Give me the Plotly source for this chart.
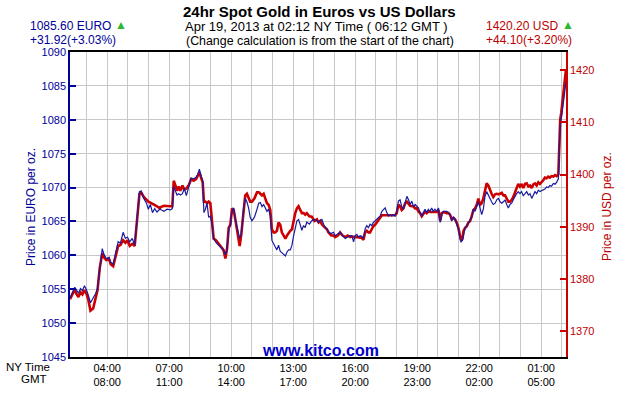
import plotly.graph_objects as go

# time in hours after midnight (NY time) Apr 18, 2013
hours = [2.20, 2.32, 2.43, 2.51, 2.61, 2.71, 2.80, 2.90, 3.00, 3.09, 3.19, 3.32, 3.45, 3.53, 3.64, 3.76, 3.85, 3.96,
         4.08, 4.17, 4.29, 4.42, 4.53, 4.64, 4.77, 4.88, 4.98, 5.09, 5.21, 5.33, 5.45, 5.56, 5.64, 5.77, 5.90, 5.99,
         6.09, 6.19, 6.30, 6.41, 6.54,
         6.57, 6.74, 6.90, 7.06, 7.15, 7.22, 7.30, 7.38, 7.46, 7.54, 7.64, 7.73, 7.83, 7.94, 8.06, 8.18, 8.30, 8.39,
         8.46, 8.54, 8.62, 8.68, 8.75, 8.83, 8.91, 8.99, 9.07, 9.15, 9.26, 9.36, 9.47, 9.55, 9.63, 9.72, 9.80, 9.88,
         9.96, 10.04, 10.12, 10.20, 10.31, 10.41, 10.49, 10.60, 10.68, 10.76, 10.84, 10.92, 11.00, 11.12,
         11.25, 11.33, 11.41, 11.49, 11.57, 11.65, 11.73, 11.81, 11.89, 11.97, 12.05, 12.13, 12.21, 12.29, 12.37,
         12.45, 12.54, 12.62, 12.70, 12.78, 12.86, 12.94, 13.02, 13.10, 13.18, 13.26, 13.34, 13.42, 13.50, 13.58,
         13.66, 13.78, 13.90, 14.03, 14.15, 14.23, 14.31, 14.39, 14.47, 14.55, 14.63, 14.71, 14.84, 14.95, 15.03,
         15.16, 15.27, 15.39, 15.52, 15.64, 15.76,
         15.84, 15.92, 16.00, 16.08, 16.16, 16.24, 16.32, 16.40, 16.48, 16.56, 16.64, 16.72, 16.80, 16.88, 16.97,
         17.05, 17.13, 17.21, 17.29, 17.37, 17.45, 17.53, 17.61, 17.69, 17.77, 17.85, 17.93, 18.01, 18.09, 18.17,
         18.25, 18.33, 18.42, 18.50, 18.58, 18.66, 18.74, 18.82, 18.90, 18.98, 19.06, 19.14, 19.22, 19.30, 19.38,
         19.46, 19.54, 19.62, 19.70, 19.78, 19.86, 19.95, 20.03, 20.11, 20.19, 20.27,
         20.43, 20.51, 20.59, 20.67, 20.75, 20.83, 20.91, 20.99, 21.07, 21.12, 21.19, 21.24, 21.32, 21.40, 21.48,
         21.56, 21.64, 21.72, 21.80, 21.88, 21.96, 22.04, 22.12, 22.20, 22.28, 22.36, 22.44, 22.52, 22.60, 22.68,
         22.77, 22.85, 22.93, 23.01, 23.09, 23.17, 23.25, 23.33, 23.41, 23.49, 23.57, 23.65, 23.73, 23.81, 23.89,
         23.97, 24.05, 24.13, 24.22, 24.30, 24.38, 24.46, 24.54, 24.62, 24.70, 24.78, 24.86, 24.94, 25.02, 25.10,
         25.18, 25.26, 25.34, 25.42, 25.50, 25.59, 25.67, 25.75, 25.83, 25.88, 25.92, 25.97, 26.02, 26.07, 26.12,
         26.17, 26.20]

eur = [1053.7, 1054.6, 1055.3, 1054.9, 1054.4, 1055.1, 1054.8, 1055.5, 1054.9, 1054.1, 1053.0, 1053.7, 1054.4,
       1055.1, 1058.2, 1061.0, 1060.1, 1059.5, 1059.7, 1059.0, 1058.7, 1060.3, 1062.0, 1061.8, 1063.4, 1062.5,
       1062.7, 1062.0, 1062.5, 1061.5, 1065.8, 1069.4, 1069.5, 1068.4, 1067.7, 1066.8, 1067.5, 1066.3, 1066.9,
       1066.4, 1066.8,
       1066.8, 1066.5, 1066.8, 1066.7, 1066.9, 1070.1, 1069.4, 1068.9, 1069.1, 1068.9, 1069.1, 1069.9, 1068.8,
       1070.1, 1071.4, 1071.3, 1071.5, 1072.0, 1072.7, 1071.8, 1071.0, 1066.3, 1066.8, 1067.7, 1065.6, 1065.8,
       1064.6, 1062.5, 1061.9, 1061.6, 1061.3, 1061.0, 1060.8, 1060.1, 1060.9, 1063.9, 1064.4, 1066.5, 1067.0,
       1065.3, 1063.7, 1062.5, 1063.2, 1067.0, 1068.4, 1067.9, 1067.0, 1065.6, 1065.1, 1065.6,
       1066.8, 1067.7, 1067.8, 1067.2, 1067.5, 1067.0, 1066.5, 1066.8, 1065.8, 1062.2, 1061.8, 1061.3, 1060.8,
       1061.5, 1060.6, 1060.4, 1060.2, 1059.9, 1060.5, 1060.8, 1060.8, 1061.5, 1062.9, 1064.1, 1065.1, 1065.3,
       1064.4, 1063.7, 1064.4, 1064.1, 1064.9, 1064.6, 1065.1, 1065.3, 1065.1, 1064.9, 1065.1, 1065.3, 1064.6,
       1064.1, 1063.9, 1063.4, 1063.2, 1063.4, 1062.9, 1063.2, 1063.4, 1062.9, 1062.5, 1062.7, 1062.9,
       1062.9, 1062.0, 1062.9, 1063.1, 1062.7, 1062.9, 1062.8, 1062.5, 1063.9, 1064.4, 1064.1, 1064.6, 1064.4,
       1064.85, 1065.1, 1065.3, 1065.6, 1065.8, 1066.5, 1066.8, 1067.0, 1066.3, 1065.8, 1066.0, 1065.8, 1066.0,
       1065.8, 1066.5, 1068.0, 1068.2, 1067.2, 1066.8, 1068.0, 1068.7, 1068.2, 1067.5, 1068.0, 1067.2, 1067.5,
       1067.2, 1067.0, 1066.3, 1065.8, 1066.3, 1066.8, 1066.3, 1066.8, 1066.5, 1067.0, 1066.5, 1066.8, 1066.5,
       1067.0, 1064.85, 1066.0, 1066.5,
       1066.5, 1066.3, 1066.0, 1065.1, 1065.6, 1065.3, 1064.6, 1063.9, 1062.5, 1062.0, 1062.2, 1063.2, 1064.1,
       1064.4, 1064.85, 1065.1, 1065.6, 1066.8, 1066.5, 1067.2, 1067.9, 1067.0, 1066.0, 1066.8, 1068.7, 1069.4,
       1068.9, 1068.2, 1067.9, 1067.5, 1067.7, 1068.2, 1068.4, 1067.9, 1067.7, 1067.9, 1068.2, 1067.5, 1067.0,
       1067.5, 1067.7, 1068.2, 1068.7, 1069.1, 1069.4,
       1069.1, 1069.4, 1068.8, 1069.1, 1069.4, 1068.9, 1069.1, 1068.4, 1068.9, 1069.4, 1069.1, 1069.6, 1069.4,
       1069.5, 1069.7, 1069.8, 1070.1, 1070.0, 1070.3, 1070.2, 1070.6, 1070.5, 1070.8, 1071.3, 1075.3, 1079.4,
       1080.1, 1081.5, 1082.2, 1084.1, 1084.9, 1085.6]

usd = [1376.1, 1377.1, 1377.9, 1377.1, 1376.5, 1377.4, 1377.0, 1377.8, 1377.1, 1375.9, 1373.9, 1374.3, 1376.2,
       1377.8, 1382.1, 1384.9, 1384.1, 1383.6, 1383.9, 1382.8, 1382.4, 1384.6, 1386.3, 1386.5, 1387.4, 1386.9,
       1387.4, 1386.3, 1386.7, 1386.3, 1392.0, 1396.3, 1396.6, 1395.7, 1395.2, 1394.8, 1394.6, 1394.4, 1394.2,
       1393.9, 1393.5,
       1393.7, 1394.0, 1393.9, 1393.9, 1393.9, 1398.8, 1397.9, 1396.9, 1397.7, 1396.9, 1397.9, 1397.1, 1397.3,
       1397.9, 1399.1, 1398.8, 1399.1, 1399.7, 1400.4, 1399.4, 1398.5, 1394.8, 1394.8, 1394.5, 1394.8, 1394.5,
       1391.4, 1387.7, 1387.4, 1386.9, 1386.4, 1386.1, 1385.5, 1383.9, 1385.8, 1389.8, 1390.4, 1393.5, 1393.2,
       1391.4, 1388.9, 1386.3, 1388.6, 1393.2, 1396.0, 1396.3, 1395.4, 1394.8, 1394.8, 1395.4,
       1396.6, 1396.6, 1396.3, 1396.0, 1396.3, 1395.4, 1394.5, 1394.2, 1393.2, 1389.5, 1388.9, 1388.9, 1389.2,
       1390.8, 1390.4, 1388.9, 1388.3, 1387.7, 1388.3, 1388.9, 1389.2, 1389.5, 1391.1, 1392.6, 1393.5, 1393.9,
       1393.2, 1392.6, 1392.6, 1392.3, 1392.6, 1392.0, 1391.9, 1391.1, 1391.4, 1390.8, 1391.1, 1390.4, 1390.1,
       1389.8, 1389.5, 1388.9, 1388.3, 1388.3, 1388.0, 1388.3, 1388.9, 1388.3, 1388.0, 1388.3, 1388.0,
       1388.1, 1388.0, 1388.0, 1388.0, 1388.0, 1387.9, 1387.8, 1387.5, 1388.9, 1389.2, 1388.9, 1388.9, 1389.5,
       1390.1, 1390.4, 1390.8, 1391.4, 1391.7, 1392.2, 1392.2, 1392.2, 1392.2, 1392.2, 1392.2, 1392.2, 1392.2,
       1392.2, 1392.6, 1394.2, 1393.9, 1393.2, 1393.5, 1394.5, 1394.8, 1394.3, 1394.0, 1393.9, 1393.9, 1393.5,
       1393.5, 1392.9, 1392.6, 1392.0, 1392.6, 1392.9, 1392.6, 1392.9, 1392.8, 1392.8, 1392.9, 1392.9, 1392.8,
       1393.2, 1391.1, 1392.6, 1392.8,
       1392.6, 1392.6, 1392.3, 1391.4, 1391.7, 1391.4, 1390.8, 1389.8, 1388.3, 1387.4, 1387.7, 1389.2, 1389.8,
       1390.1, 1390.8, 1391.1, 1392.0, 1393.2, 1393.5, 1394.2, 1395.4, 1394.2, 1394.5, 1395.4, 1396.9, 1398.3,
       1397.9, 1396.9, 1396.3, 1395.7, 1396.2, 1396.3, 1396.2, 1396.3, 1396.5, 1396.0, 1396.0, 1395.4, 1394.8,
       1394.8, 1395.1, 1395.7, 1396.6, 1397.3, 1398.2,
       1397.7, 1398.2, 1397.4, 1398.2, 1398.3, 1397.7, 1397.9, 1397.4, 1398.1, 1398.3, 1397.9, 1398.5, 1398.2,
       1398.5, 1398.9, 1399.4, 1399.3, 1399.6, 1399.4, 1399.7, 1399.6, 1399.9, 1399.7, 1400.0, 1405.0, 1410.6,
       1411.8, 1413.7, 1414.9, 1416.8, 1418.6, 1420.2]

grid_hours = list(range(3, 27))
tick_labels = {4: "04:00<br>08:00", 7: "07:00<br>11:00", 10: "10:00<br>14:00", 13: "13:00<br>17:00",
               16: "16:00<br>20:00", 19: "19:00<br>23:00", 22: "22:00<br>02:00", 25: "01:00<br>05:00"}

eur_ticks = [1045, 1050, 1055, 1060, 1065, 1070, 1075, 1080, 1085, 1090]
usd_ticks = [1370, 1380, 1390, 1400, 1410, 1420]

FONT = "Liberation Sans, Arial, sans-serif"
BLUE_TXT = "#000099"
BLUE_LINE = "#1a1aa0"
RED_LINE = "#cc0000"
RED_TXT = "#bb0000"
GREEN = "#2db82d"

fig = go.Figure()
fig.add_trace(go.Scatter(x=hours, y=usd, mode="lines", yaxis="y",
                         line=dict(color=RED_LINE, width=2.6), hoverinfo="skip"))
fig.add_trace(go.Scatter(x=hours, y=eur, mode="lines", yaxis="y2",
                         line=dict(color=BLUE_LINE, width=1.2), hoverinfo="skip"))

fig.update_layout(
    width=630, height=400,
    margin=dict(l=70, r=64, t=52, b=33, pad=0),
    paper_bgcolor="white", plot_bgcolor="white",
    showlegend=False,
    font=dict(family=FONT, size=11, color="black"),
    xaxis=dict(range=[2.2, 26.2], tickmode="array", tickvals=grid_hours,
               ticktext=[tick_labels.get(h, "") for h in grid_hours],
               showgrid=True, gridcolor="#c8c8c8", gridwidth=1, zeroline=False,
               showline=True, linecolor="black", linewidth=1.5, mirror=True,
               ticks="", tickfont=dict(size=11, color="black"), fixedrange=True),
    yaxis=dict(range=[1365, 1423.5], side="right", tickmode="array", tickvals=usd_ticks,
               showgrid=False, zeroline=False, showline=True, linecolor=RED_LINE, linewidth=1.5,
               ticks="inside", ticklen=6, tickcolor=RED_LINE, tickwidth=1.5,
               tickfont=dict(size=11, color=RED_TXT)),
    yaxis2=dict(range=[1045, 1090], side="left", overlaying="y", tickmode="array", tickvals=eur_ticks,
                showgrid=True, gridcolor="#c8c8c8", gridwidth=1, zeroline=False,
                showline=True, linecolor=BLUE_TXT, linewidth=1.5,
                ticks="inside", ticklen=6, tickcolor=BLUE_TXT, tickwidth=1.5,
                tickfont=dict(size=11, color=BLUE_TXT)),
)


def px_x(px):
    return (px - 70) / 496.0


def px_y(py):
    return (367 - py) / 315.0


def note(text, x, y, size, color, xanchor="center", bold=False, angle=0):
    if bold:
        text = "<b>" + text + "</b>"
    fig.add_annotation(text=text, x=px_x(x), y=px_y(y), xref="paper", yref="paper",
                       xanchor=xanchor, yanchor="middle", showarrow=False, textangle=angle,
                       borderpad=0,
                       font=dict(family=FONT, size=size, color=color))


note("24hr Spot Gold in Euros vs US Dollars", 319, 10, 15, "black", bold=True)
note("Apr 19, 2013 at 02:12 NY Time ( 06:12 GMT )", 316, 26, 13, "black")
note("(Change calculation is from the start of the chart)", 320, 41, 12.4, "black")
note("1085.60 EURO", 29, 25, 12, BLUE_TXT, xanchor="left")
note("+31.92(+3.03%)", 29, 40, 12, BLUE_TXT, xanchor="left")
note("1420.20 USD", 485, 25, 12, RED_TXT, xanchor="left")
note("+44.10(+3.20%)", 485, 40, 12, RED_TXT, xanchor="left")
note("▲", 121, 24, 12, GREEN)
note("▲", 568, 24, 12, GREEN)
note("www.kitco.com", 320, 360, 16, "#0000cc", bold=True)
note("NY Time", 28, 377, 11.5, "black")
note("GMT", 34, 390, 11.5, "black")
note("Price in EURO per oz.", 31, 212, 12, BLUE_TXT, angle=-90)
note("Price in USD per oz.", 607, 212, 12, RED_TXT, angle=-90)

# remove the browser's default 8px page margin so the figure sits at the window's corner
fig.write_html("out.html", config={"displayModeBar": False},
               post_script="document.body.style.margin='0';")
